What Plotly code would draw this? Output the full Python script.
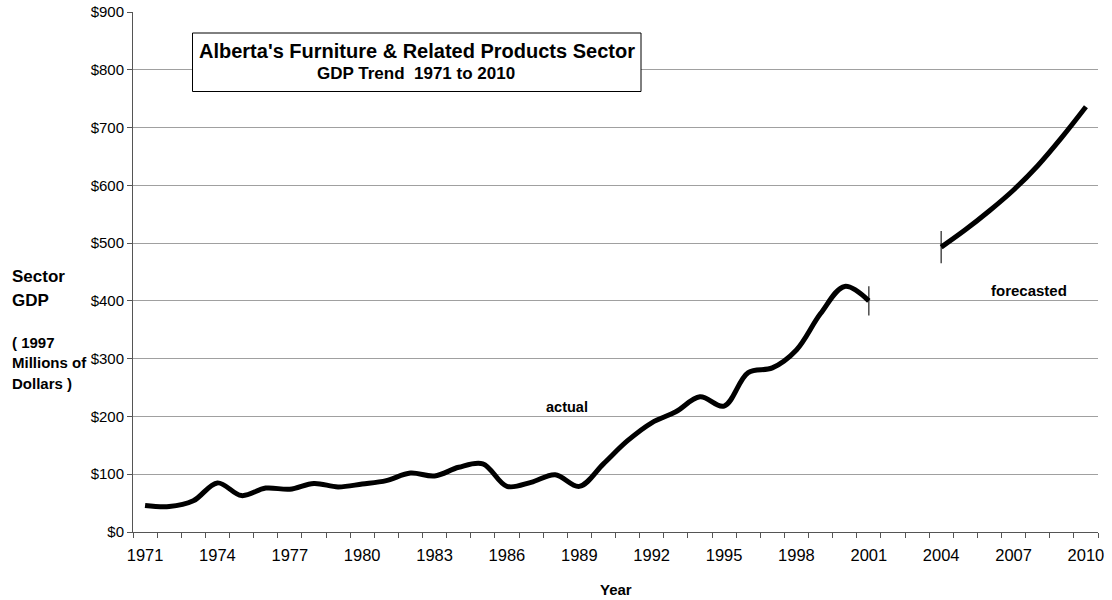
import plotly.graph_objects as go

# ---------------- data ----------------
actual_years = list(range(1971, 2002))
actual_gdp = [46, 44, 54, 85, 63, 76, 74, 84, 78, 83,
              89, 102, 97, 112, 118, 79, 86, 99, 79, 118,
              158, 189, 208, 234, 218, 276, 284, 315, 378, 425, 400]
forecast_years = list(range(2004, 2011))
forecast_gdp = [493, 523, 556, 592, 634, 683, 736]

all_years = list(range(1971, 2011))
tick_years = all_years[::3]
y_ticks = list(range(0, 1000, 100))

# ---------------- layout geometry (pixels) ----------------
W, H = 1112, 600
PL, PR, PT, PB = 133, 1098, 12, 532
FONT = "Liberation Sans, Arial, sans-serif"


def px(x):
    return (x - PL) / (PR - PL)


def py(y):
    return (PB - y) / (PB - PT)


fig = go.Figure()

fig.add_trace(go.Scatter(
    x=actual_years, y=actual_gdp, mode="lines",
    line=dict(color="black", width=5, shape="spline", smoothing=1.0),
    showlegend=False, hoverinfo="skip"))
fig.add_trace(go.Scatter(
    x=forecast_years, y=forecast_gdp, mode="lines",
    line=dict(color="black", width=5, shape="spline", smoothing=1.0),
    showlegend=False, hoverinfo="skip"))
# end / start markers
fig.add_trace(go.Scatter(
    x=[actual_years[-1], forecast_years[0]], y=[actual_gdp[-1], forecast_gdp[0]],
    mode="markers",
    marker=dict(symbol="line-ns", size=[21, 23], color="black",
                line=dict(color="black", width=1.5)),
    showlegend=False, hoverinfo="skip"))

boundaries = [y - 0.5 for y in all_years] + [all_years[-1] + 0.5]

fig.update_xaxes(
    range=[all_years[0] - 0.5, all_years[-1] + 0.5],
    tickmode="array", tickvals=tick_years, ticktext=[str(y) for y in tick_years],
    ticks="", showgrid=False, zeroline=False, automargin=False,
    showline=True, linecolor="#555555", linewidth=1,
    tickfont=dict(family=FONT, size=16.5, color="black"),
    minor=dict(tickmode="array", tickvals=boundaries, ticks="outside",
               ticklen=5, tickcolor="#555555", tickwidth=1, showgrid=False),
    ticklabelstandoff=8,
)
fig.update_yaxes(
    range=[0, 900], tickmode="array", tickvals=y_ticks,
    ticktext=["$" + str(v) for v in y_ticks],
    ticks="outside", ticklen=5, tickcolor="#555555", automargin=False,
    showgrid=True, gridcolor="#a0a0a0", gridwidth=1,
    zeroline=False, showline=True, linecolor="#555555", linewidth=1,
    tickfont=dict(family=FONT, size=15, color="black"),
)

annotations = []


def ann(text, x, y, size, xanchor="center", bold=True):
    annotations.append(dict(
        text=("<b>%s</b>" % text) if bold else text,
        x=px(x), y=py(y), xref="paper", yref="paper",
        xanchor=xanchor, yanchor="middle", showarrow=False,
        font=dict(family=FONT, size=size, color="black")))


ann("Alberta's Furniture &amp; Related Products Sector", 417, 51.5, 20)
ann("GDP Trend&nbsp;&nbsp;1971 to 2010", 416, 73.5, 17)
ann("actual", 567, 407, 14.5)
ann("forecasted", 1029, 290, 15)
ann("Year", 615.5, 589, 15)
ann("Sector", 10, 276.5, 17, xanchor="left")
ann("GDP", 10, 300, 17, xanchor="left")
ann("( 1997", 10, 342.5, 15, xanchor="left")
ann("Millions of", 10, 362.5, 15, xanchor="left")
ann("Dollars )", 10, 383, 15, xanchor="left")

fig.update_layout(
    width=W, height=H,
    margin=dict(l=PL, r=W - PR, t=PT, b=H - PB, pad=0),
    paper_bgcolor="white", plot_bgcolor="white",
    font=dict(family=FONT, color="black"),
    annotations=annotations,
    shapes=[dict(type="rect", xref="paper", yref="paper",
                 x0=px(192.5), x1=px(641), y0=py(33), y1=py(91.5),
                 fillcolor="white", line=dict(color="black", width=1),
                 layer="above")],
)

fig.write_html("out.html", config={"displayModeBar": False},
               post_script="document.body.style.margin='0px';"
                           "document.body.style.padding='0px';")
